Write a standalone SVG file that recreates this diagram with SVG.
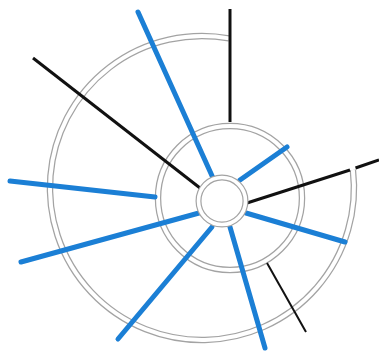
<svg xmlns="http://www.w3.org/2000/svg" width="379" height="353" viewBox="0 0 379 353">
<style>
.ring-o{fill:none;stroke:#a3a3a3;stroke-width:6.5}
.ring-i{fill:none;stroke:#ffffff;stroke-width:4}
.blk{stroke:#111;stroke-width:3;stroke-linecap:butt}
.thin{stroke:#111;stroke-width:2}
.blue{stroke:#1b7fd5;stroke-width:5;stroke-linecap:round}
</style>
<rect width="379" height="353" fill="#ffffff"/>
<g id="outer-spiral">
<path class="ring-o" d="M229,38.4 A152,152 0 1 0 352.9,170"/>
<path class="ring-i" d="M229,38.4 A152,152 0 1 0 352.9,170"/>
</g>
<g id="middle-ring">
<circle class="ring-o" cx="230" cy="198" r="72"/>
<circle class="ring-i" cx="230" cy="198" r="72"/>
</g>
<g id="connectors">
<line class="blk" x1="230" y1="9" x2="230" y2="122"/>
<line class="blk" x1="33" y1="58" x2="200" y2="188"/>
<line class="blk" x1="247" y1="203" x2="350" y2="170"/>
<line class="blk" x1="355.5" y1="168" x2="379" y2="160"/>
<line class="thin" x1="267" y1="263" x2="306" y2="332"/>
<line class="blue" x1="138" y1="12" x2="213" y2="178"/>
<line class="blue" x1="240" y1="180" x2="287" y2="147"/>
<line class="blue" x1="246" y1="213" x2="345" y2="242"/>
<line class="blue" x1="230" y1="227" x2="265" y2="348"/>
<line class="blue" x1="212" y1="227" x2="118" y2="339"/>
<line class="blue" x1="21" y1="262" x2="199" y2="213"/>
<line class="blue" x1="10" y1="181" x2="155" y2="197"/>
</g>
<g id="hub">
<circle cx="222" cy="201" r="23.5" fill="#ffffff" stroke="#a3a3a3" stroke-width="6"/>
<circle cx="222" cy="201" r="23.5" fill="none" stroke="#ffffff" stroke-width="3.6"/>
</g>
</svg>
